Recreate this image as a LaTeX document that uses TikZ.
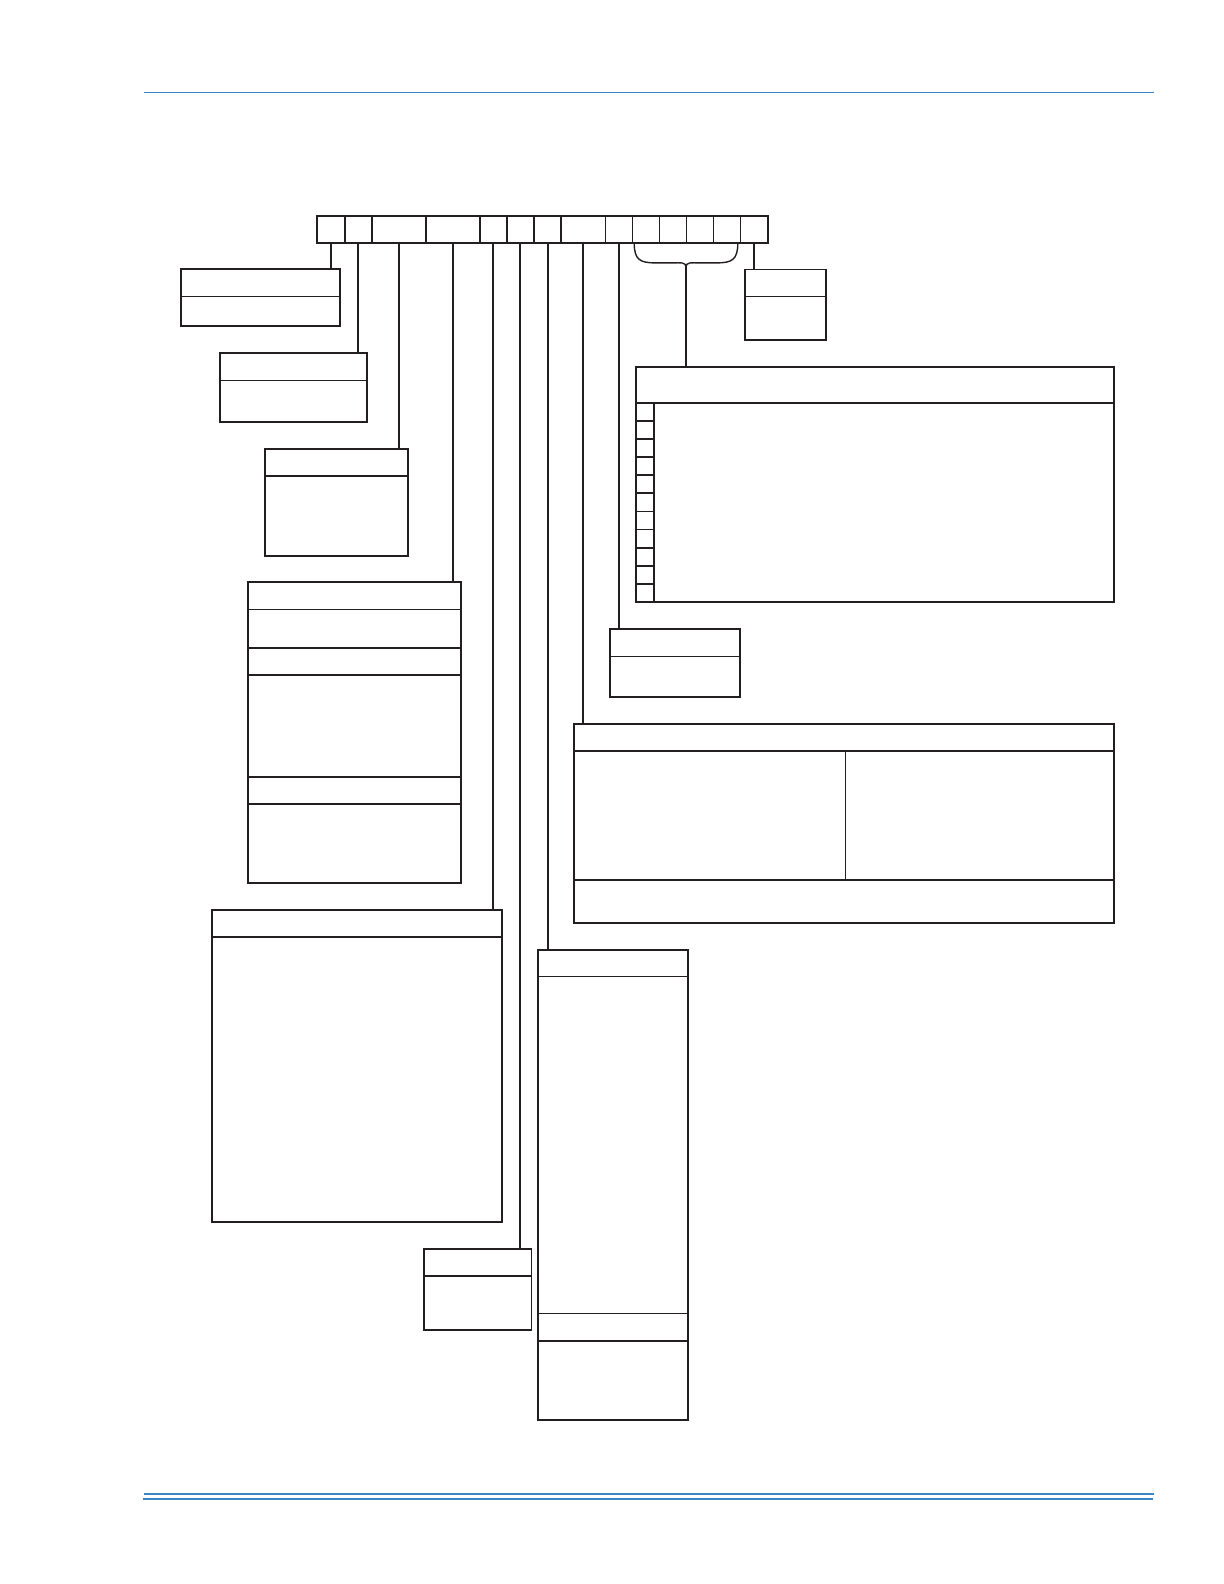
\documentclass[tikz,border=0pt]{standalone}
\usetikzlibrary{fit}
\definecolor{ink}{RGB}{35,31,32}
\definecolor{rulecol}{RGB}{58,132,200}
\tikzset{
  box/.style={draw=ink, line width=1.7pt, inner sep=0pt, outer sep=0pt, fill=none},
  cell/.style={draw=ink, line width=1.1pt, inner sep=0pt, outer sep=0pt},
  heavy/.style={draw=ink, line width=1.8pt},
  thickdiv/.style={draw=ink, line width=1.7pt},
  thindiv/.style={draw=ink, line width=1.1pt},
  link/.style={draw=ink, line width=2.0pt},
  bracepath/.style={draw=ink, line width=1.4pt},
  blueline/.style={draw=rulecol}
}
\begin{document}
\begin{tikzpicture}[x=1.011pt, y=-1.011pt]
\useasboundingbox[fill=white] (0,0) rectangle (1210.68,1566.77);

% header / footer rules
\draw[blueline, line width=1.6pt] (142,91.3) -- (1141,91.3);
\draw[blueline, line width=2.8pt] (142,1477.7) -- (1141,1477.7);
\draw[blueline, line width=1.4pt] (141.5,1482.7) -- (1140,1482.7);

% code bar cells
\foreach \a/\b [count=\i] in {313.9/341.0, 341.0/368.0, 368.0/421.4, 421.4/474.8, 474.8/501.2, 501.2/528.2, 528.2/554.9, 554.9/598.7, 598.7/625.8, 625.8/652.1, 652.1/679.2, 679.2/705.6, 705.6/732.6, 732.6/759.3}
  \node[cell, fit={(\a,213.4) (\b,240.1)}] (c\i) {};
\node[cell, fit={(732.6,213.4) (759.3,240.1)}] (c15) {};
\foreach \i in {1,...,7}
  \draw[heavy] (c\i.north east) -- (c\i.south east);
\node[box, line width=1.8pt, fit={(313.9,213.4) (759.3,240.1)}] (bar) {};

% boxes
\node[box, fit={(179.3,266.4) (336.6,322.7)}] (b1) {};
\draw[thindiv] (179.3,293.5) -- (336.6,293.5);

\node[box, fit={(217.3,349.5) (363.0,417.1)}] (b2) {};
\draw[thindiv] (217.3,376.6) -- (363.0,376.6);

\node[box, fit={(262.1,443.8) (403.6,549.7)}] (b3) {};
\draw[thickdiv] (262.1,471.0) -- (403.6,471.0);

\node[box, fit={(245.3,576.0) (456.3,873.1)}] (b4) {};
\draw[thindiv] (245.3,602.7) -- (456.3,602.7);
\foreach \y in {640.7,667.7,768.2,795.0}
  \draw[thickdiv] (245.3,\y) -- (456.3,\y);

\node[box, fit={(209.7,899.8) (496.5,1208.4)}] (b5) {};
\draw[thickdiv] (209.7,926.5) -- (496.5,926.5);

\node[box, fit={(419.1,1235.4) (525.6,1315.2)}] (b6) {};
\draw[thickdiv] (419.1,1261.8) -- (525.6,1261.8);

\node[box, fit={(532.2,939.7) (680.5,1404.6)}] (b7) {};
\draw[thickdiv] (532.2,966.0) -- (680.5,966.0);
\draw[thindiv] (532.2,1299.0) -- (680.5,1299.0);
\draw[thickdiv] (532.2,1326.4) -- (680.5,1326.4);

\node[box, fit={(567.6,716.1) (1102.0,912.9)}] (b8) {};
\draw[thickdiv] (567.6,742.8) -- (1102.0,742.8);
\draw[thickdiv] (836.2,742.8) -- (836.2,870.1);
\draw[thickdiv] (567.6,870.1) -- (1102.0,870.1);

\node[box, fit={(603.4,622.2) (732.0,689.1)}] (b9) {};
\draw[thindiv] (603.4,649.5) -- (732.0,649.5);

\node[box, fit={(628.8,362.7) (1101.9,595.5)}] (b10) {};
\draw[thickdiv] (628.8,398.3) -- (1101.9,398.3);
\draw[thickdiv] (646.6,398.3) -- (646.6,595.5);
\foreach \k in {1,...,10}
  \draw[thickdiv] (628.8,{398.3+\k*17.93}) -- (646.6,{398.3+\k*17.93});

\node[box, fit={(736.6,266.7) (817.3,336.3)}] (b11) {};
\draw[thindiv] (736.6,293.1) -- (817.3,293.1);

% connectors
\draw[link] (c1.south) -- (c1.south |- b1.north);
\draw[link] (c2.south) -- (c2.south |- b2.north);
\draw[link] (c3.south) -- (c3.south |- b3.north);
\draw[link] (c4.south) -- (c4.south |- b4.north);
\draw[link] (c5.south) -- (c5.south |- b5.north);
\draw[link] (c6.south) -- (c6.south |- b6.north);
\draw[link] (c7.south) -- (c7.south |- b7.north);
\draw[link] (c8.south) -- (c8.south |- b8.north);
\draw[link] (c9.south) -- (c9.south |- b9.north);
\draw[link] (c15.south) -- (c15.south |- b11.north);

% brace over cells 10-14
\coordinate (bracetip) at (678.5,264.5);
\draw[bracepath] (627.3,240.1) .. controls (627.3,257) and (633,260) .. (648,260)
  -- (664,260) .. controls (674,260) and (678.5,259) .. (bracetip);
\draw[bracepath] (bracetip) .. controls (678.5,259) and (683,260) .. (693,260)
  -- (709,260) .. controls (724,260) and (729.8,257) .. (729.8,240.1);
\draw[link] (bracetip) -- (bracetip |- b10.north);
\end{tikzpicture}
\end{document}
